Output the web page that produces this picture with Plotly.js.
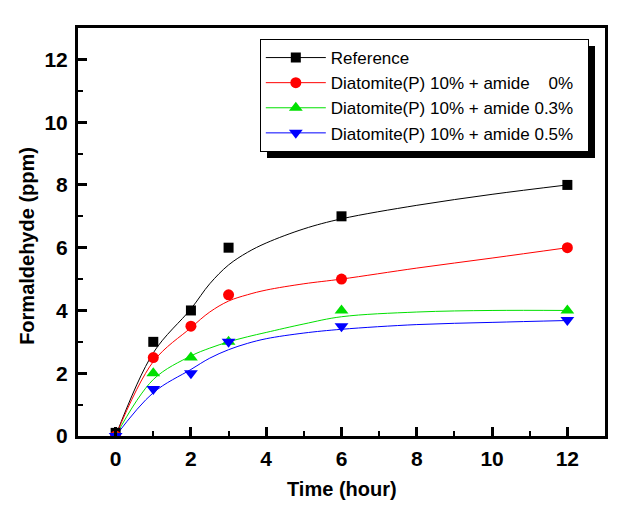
<!DOCTYPE html>
<html>
<head>
<meta charset="utf-8">
<script src="https://cdn.plot.ly/plotly-3.0.1.min.js"></script>
<style>html,body{margin:0;padding:0;background:#fff;}#chart{width:627px;height:521px;}</style>
</head>
<body>
<div id="chart"></div>
<script>
// measured data points
var timeH = [0, 1, 2, 3, 6, 12];
var refVals = [0.1, 3, 4, 6, 7, 8];
var amide0Vals = [0, 2.5, 3.5, 4.5, 5, 6];
var amide03Vals = [0, 2, 2.5, 3, 4, 4];
var amide05Vals = [0, 1.5, 2, 3, 3.5, 3.7];

// fitted curves
var fitT = [0, 1, 2, 2.5, 3, 3.5, 4, 5, 6, 8, 10, 12];
var refFit = [0, 2.65, 4.05, 4.85, 5.45, 5.85, 6.15, 6.6, 6.92, 7.35, 7.7, 8.0];
var amide0Fit = [0, 2.37, 3.45, 3.95, 4.3, 4.5, 4.65, 4.85, 5.0, 5.35, 5.67, 6.0];
var amide03Fit = [0, 1.8, 2.55, 2.8, 3.0, 3.16, 3.3, 3.57, 3.8, 3.95, 4.0, 4.0];
var amide05Fit = [0, 1.38, 2.12, 2.48, 2.75, 2.95, 3.1, 3.28, 3.4, 3.55, 3.62, 3.68];

var seriesNames = [
  'Reference',
  'Diatomite(P) 10% + amide \u00A0\u00A0\u00A00%',
  'Diatomite(P) 10% + amide 0.3%',
  'Diatomite(P) 10% + amide 0.5%'
];
var colors = ['#000000', '#ff0000', '#00e000', '#0000ff'];
var symbols = ['square', 'circle', 'triangle-up', 'triangle-down'];
var sizes = [10, 11, 12, 12];
var pointSets = [refVals, amide0Vals, amide03Vals, amide05Vals];
var fitSets = [refFit, amide0Fit, amide03Fit, amide05Fit];

// interleave nulls so the legend shows line + symbol but points stay unconnected
function gapped(arr) {
  var out = [];
  arr.forEach(function (v, i) { if (i) out.push(null); out.push(v); });
  return out;
}

var traces = [];
fitSets.forEach(function (f, i) {
  traces.push({
    x: fitT, y: f, mode: 'lines', type: 'scatter',
    line: {color: colors[i], width: 1, shape: 'spline', smoothing: 1},
    showlegend: false, hoverinfo: 'skip'
  });
});
pointSets.forEach(function (p, i) {
  traces.push({
    x: gapped(timeH), y: gapped(p), mode: 'lines+markers', type: 'scatter',
    connectgaps: false,
    name: seriesNames[i] + '\u00A0\u00A0',
    line: {color: colors[i], width: 1},
    marker: {color: colors[i], symbol: symbols[i], size: sizes[i], line: {width: 0}}
  });
});

var axisCommon = {
  showgrid: false, zeroline: false, showline: true, linecolor: '#000', linewidth: 3,
  mirror: true, ticks: 'inside', ticklen: 9, tickwidth: 3, tickcolor: '#000',
  tickfont: {family: 'Liberation Sans, Arial, sans-serif', size: 21, color: '#000', weight: 'bold'},
  minor: {ticks: 'inside', ticklen: 5, tickwidth: 2, tickcolor: '#000', dtick: 1, showgrid: false}
};

var layout = {
  width: 627, height: 521,
  margin: {l: 78, r: 22, t: 28, b: 85},
  paper_bgcolor: '#fff', plot_bgcolor: '#fff',
  font: {family: 'Liberation Sans, Arial, sans-serif', color: '#000'},
  xaxis: Object.assign({}, axisCommon, {range: [-1, 13], tickmode: 'linear', tick0: 0, dtick: 2, ticklabelstandoff: 2}),
  yaxis: Object.assign({}, axisCommon, {range: [0, 13], tickmode: 'linear', tick0: 0, dtick: 2, ticklabelstandoff: 3}),
  showlegend: true,
  legend: {
    x: 0.345, y: 0.973, xanchor: 'left', yanchor: 'top',
    bgcolor: '#fff', bordercolor: '#000', borderwidth: 1,
    font: {family: 'Liberation Sans, Arial, sans-serif', size: 17, color: '#000'},
    tracegroupgap: 0, itemwidth: 60
  },
  annotations: [
    {text: '<b>Time (hour)</b>', xref: 'paper', yref: 'paper', x: 0.5, y: 0, xanchor: 'center', yanchor: 'middle',
     yshift: -53, showarrow: false, font: {size: 20, family: 'Liberation Sans, Arial, sans-serif', color: '#000'}},
    {text: '<b>Formaldehyde (ppm)</b>', xref: 'paper', yref: 'paper', x: 0, y: 0.466, xanchor: 'center', yanchor: 'middle',
     xshift: -51, textangle: -90, showarrow: false, font: {size: 20, family: 'Liberation Sans, Arial, sans-serif', color: '#000'}}
  ]
};

Plotly.newPlot('chart', traces, layout, {displayModeBar: false, staticPlot: true}).then(function (gd) {
  // drop shadow behind the legend box
  var bg = gd.querySelector('.legend rect.bg');
  if (!bg) return;
  var sh = bg.cloneNode(false);
  sh.setAttribute('class', 'legend-shadow');
  sh.style.fill = '#000';
  sh.style.stroke = 'none';
  var tr = bg.getAttribute('transform') || '';
  sh.setAttribute('transform', tr + ' translate(7,6)');
  bg.parentNode.insertBefore(sh, bg);
});
</script>
</body>
</html>
